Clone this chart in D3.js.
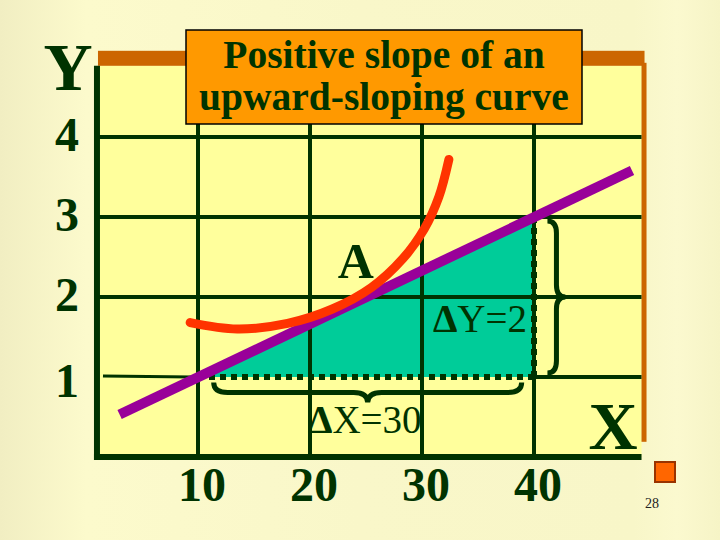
<!DOCTYPE html>
<html><head><meta charset="utf-8">
<script src="https://cdn.jsdelivr.net/npm/d3@7"></script>
<style>html,body{margin:0;padding:0;background:#f8f6c8;}svg{display:block;}</style>
</head><body>
<script>
// ---- data ----
const xTicks = [10, 20, 30, 40];
const yTicks = [1, 2, 3, 4];
const xTickLabels = ["10", "20", "30", "40"];
const yTickLabels = ["1", "2", "3", "4"];
// straight line (slope 2/30)
const lineX = [3.0, 48.75];
const lineY = [0.53, 3.58];
// upward-sloping curve
const curveX = [9.3, 13.5, 18.0, 22.0, 25.5, 28.3, 30.2, 31.5, 32.4];
const curveY = [1.68, 1.60, 1.67, 1.85, 2.12, 2.48, 2.85, 3.25, 3.72];
// slope triangle
const triX = [10, 40, 40];
const triY = [1, 1, 3];
const titleLines = ["Positive slope of an", "upward-sloping curve"];

const W = 720, H = 540;
const font = "'Liberation Serif','Times New Roman',serif";
const dark = "#003300";

const x = d3.scaleLinear().domain([10, 40]).range([198, 534]);
const y = d3.scaleLinear().domain([1, 4]).range([377, 137]);
const xLo = 0.98, xHi = 49.6, yLo = 0, yHi = 4.89;

const svg = d3.select("body").append("svg").attr("width", W).attr("height", H);
const defs = svg.append("defs");
const g = defs.append("linearGradient").attr("id", "bg").attr("x1", 0).attr("x2", 1).attr("y1", 0).attr("y2", 0);
g.append("stop").attr("offset", "0").attr("stop-color", "#f1eec2");
g.append("stop").attr("offset", "0.12").attr("stop-color", "#fcfacc");
g.append("stop").attr("offset", "0.5").attr("stop-color", "#f9f7c9");
g.append("stop").attr("offset", "0.88").attr("stop-color", "#f8f6c8");
g.append("stop").attr("offset", "0.94").attr("stop-color", "#fbf9cf");
g.append("stop").attr("offset", "1").attr("stop-color", "#f6f4c6");
svg.append("rect").attr("width", W).attr("height", H).attr("fill", "url(#bg)");

// plot fill + orange shadow frame
svg.append("rect").attr("x", x(xLo)).attr("y", y(yHi)).attr("width", x(xHi) - x(xLo)).attr("height", y(yLo) - y(yHi)).attr("fill", "#ffff9c");
svg.append("rect").attr("x", x(xLo) + 1).attr("y", y(yHi) - 15).attr("width", x(xHi) - x(xLo) + 2).attr("height", 15).attr("fill", "#cc6600");
svg.append("rect").attr("x", x(xHi)).attr("y", y(yHi) - 3).attr("width", 5).attr("height", y(0.19) - y(yHi) + 3).attr("fill", "#cc6600");

// teal triangle
svg.append("polygon")
  .attr("points", triX.map((v, i) => [x(v), y(triY[i])].join(",")).join(" "))
  .attr("fill", "#00cc99");

// grid
const grid = svg.append("g").attr("stroke", dark).attr("stroke-width", 4);
xTicks.forEach(v => grid.append("line").attr("x1", x(v)).attr("x2", x(v)).attr("y1", y(yHi)).attr("y2", y(0)));
yTicks.forEach(v => {
  const start = v === 1 ? x(40) : x(xLo);
  grid.append("line").attr("x1", start).attr("x2", x(xHi)).attr("y1", y(v)).attr("y2", y(v));
});
// leader line at y=1
svg.append("line").attr("x1", x(xLo) + 6).attr("x2", x(10) - 6).attr("y1", y(1) - 1).attr("y2", y(1))
  .attr("stroke", dark).attr("stroke-width", 3);

// dotted sides of triangle
svg.append("line").attr("x1", x(10)).attr("x2", x(40)).attr("y1", y(1)).attr("y2", y(1))
  .attr("stroke", dark).attr("stroke-width", 6).attr("stroke-dasharray", "6,5");
svg.append("line").attr("x1", x(40)).attr("x2", x(40)).attr("y1", y(3)).attr("y2", y(1))
  .attr("stroke", dark).attr("stroke-width", 6).attr("stroke-dasharray", "6,5");

// axes
svg.append("line").attr("x1", x(xLo)).attr("x2", x(xLo)).attr("y1", y(yHi)).attr("y2", y(0) + 3)
  .attr("stroke", dark).attr("stroke-width", 6);
svg.append("line").attr("x1", x(xLo) - 3).attr("x2", x(xHi)).attr("y1", y(0)).attr("y2", y(0))
  .attr("stroke", dark).attr("stroke-width", 6);

// purple straight line
svg.append("path")
  .attr("d", d3.line().x(d => x(d[0])).y(d => y(d[1]))(lineX.map((v, i) => [v, lineY[i]])))
  .attr("stroke", "#990099").attr("stroke-width", 10).attr("fill", "none");

// red curve
svg.append("path")
  .attr("d", d3.line().x(d => x(d[0])).y(d => y(d[1])).curve(d3.curveCatmullRom.alpha(0.5))(curveX.map((v, i) => [v, curveY[i]])))
  .attr("stroke", "#ff3300").attr("stroke-width", 9).attr("fill", "none").attr("stroke-linecap", "round");

// braces
function hBrace(x1, x2, y0, D, w) {
  const xm = (x1 + x2) / 2, h = D / 2;
  return `M${x1},${y0} Q${x1},${y0 + h} ${x1 + w},${y0 + h} L${xm - w},${y0 + h} Q${xm},${y0 + h} ${xm},${y0 + D}` +
    ` Q${xm},${y0 + h} ${xm + w},${y0 + h} L${x2 - w},${y0 + h} Q${x2},${y0 + h} ${x2},${y0}`;
}
function vBrace(y1, y2, x0, D, w) {
  const ym = (y1 + y2) / 2, h = D / 2;
  return `M${x0},${y1} Q${x0 + h},${y1} ${x0 + h},${y1 + w} L${x0 + h},${ym - w} Q${x0 + h},${ym} ${x0 + D},${ym}` +
    ` Q${x0 + h},${ym} ${x0 + h},${ym + w} L${x0 + h},${y2 - w} Q${x0 + h},${y2} ${x0},${y2}`;
}
svg.append("path").attr("d", hBrace(x(11.4), x(38.9), y(0.93), 20, 14))
  .attr("fill", "none").attr("stroke", dark).attr("stroke-width", 5);
svg.append("path").attr("d", vBrace(y(2.95), y(1.05), x(41.2), 18, 12))
  .attr("fill", "none").attr("stroke", dark).attr("stroke-width", 5);

// tick labels
svg.append("g").selectAll("text").data(xTicks).join("text")
  .attr("x", d => x(d) + 4).attr("y", y(0) + 44)
  .attr("text-anchor", "middle").attr("font-family", font).attr("font-weight", "bold")
  .attr("font-size", 48).attr("fill", dark).text((d, i) => xTickLabels[i]);
svg.append("g").selectAll("text").data(yTicks).join("text")
  .attr("x", 67).attr("y", d => y(d) + (d === 1 ? 20 : 14))
  .attr("text-anchor", "middle").attr("font-family", font).attr("font-weight", "bold")
  .attr("font-size", 48).attr("fill", dark).text((d, i) => yTickLabels[i]);

// axis titles
svg.append("text").attr("x", 68).attr("y", 90).attr("text-anchor", "middle")
  .attr("font-family", font).attr("font-weight", "bold").attr("font-size", 68).attr("fill", dark).text("Y");
svg.append("text").attr("x", 613).attr("y", 449).attr("text-anchor", "middle")
  .attr("font-family", font).attr("font-weight", "bold").attr("font-size", 68).attr("fill", dark).text("X");

// annotations
svg.append("text").attr("x", x(24.1)).attr("y", y(1) - 99).attr("text-anchor", "middle")
  .attr("font-family", font).attr("font-weight", "bold").attr("font-size", 50).attr("fill", dark).text("A");
const dy = svg.append("text").attr("x", x(40) - 7).attr("y", 332).attr("text-anchor", "end")
  .attr("font-family", font).attr("font-size", 39).attr("fill", dark);
dy.append("tspan").attr("font-weight", "bold").text("Δ");
dy.append("tspan").text("Y=2");
const dx = svg.append("text").attr("x", 308).attr("y", 433).attr("text-anchor", "start")
  .attr("font-family", font).attr("font-size", 39).attr("fill", dark);
dx.append("tspan").attr("font-weight", "bold").text("Δ");
dx.append("tspan").text("X=30");

// title box
svg.append("rect").attr("x", 186).attr("y", 30).attr("width", 396).attr("height", 94)
  .attr("fill", "#ff9900").attr("stroke", "#000").attr("stroke-width", 1.5);
svg.append("g").selectAll("text").data(titleLines).join("text")
  .attr("x", 384).attr("y", (d, i) => 68 + i * 42).attr("text-anchor", "middle")
  .attr("font-family", font).attr("font-weight", "bold").attr("font-size", 39.5).attr("fill", dark).text(d => d);

// slide decoration + page number
svg.append("rect").attr("x", 655).attr("y", 462).attr("width", 20).attr("height", 20)
  .attr("fill", "#ff6600").attr("stroke", "#993300").attr("stroke-width", 2);
svg.append("text").attr("x", 652).attr("y", 508).attr("text-anchor", "middle")
  .attr("font-family", font).attr("font-size", 14).attr("fill", "#222").text("28");
</script>
</body></html>
